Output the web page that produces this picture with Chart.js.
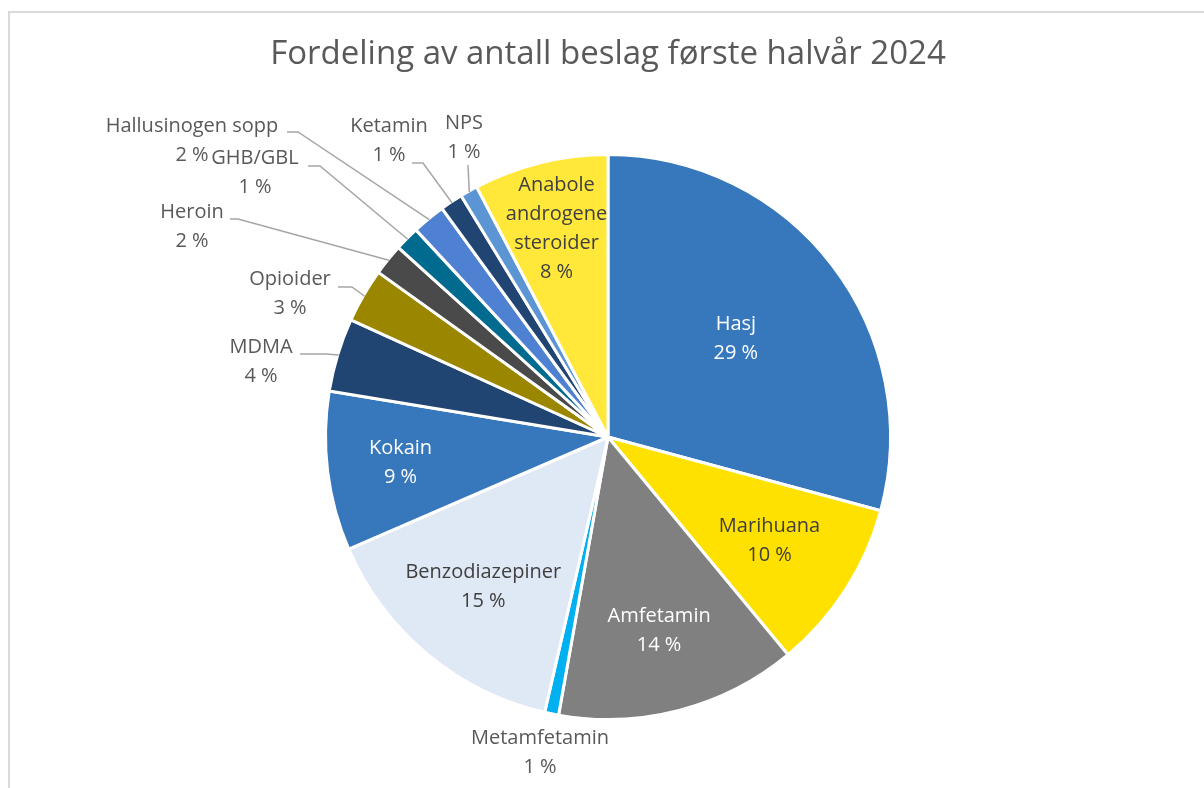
<!DOCTYPE html>
<html>
<head>
<meta charset="utf-8">
<script src="https://cdn.jsdelivr.net/npm/chart.js@4.4.1/dist/chart.umd.min.js"></script>
<style>
  html, body { margin: 0; padding: 0; background: #fff; }
  #wrap { width: 1204px; height: 788px; }
</style>
</head>
<body>
<div id="wrap"><canvas id="pieChart" width="1204" height="788"></canvas></div>
<script>
// Chart data
const chartTitle = 'Fordeling av antall beslag første halvår 2024';
const categories = [
    'Hasj', 'Marihuana', 'Amfetamin', 'Metamfetamin', 'Benzodiazepiner', 'Kokain',
    'MDMA', 'Opioider', 'Heroin', 'GHB/GBL', 'Hallusinogen sopp', 'Ketamin', 'NPS',
    ['Anabole', 'androgene', 'steroider']
];
const shares = [29.2, 9.8, 13.8, 0.8, 14.9, 9.1, 4.2, 3.1, 1.8, 1.4, 1.9, 1.3, 1.0, 7.7];
const colors = [
    '#3777bc', '#ffe100', '#808080', '#00b0f0', '#dfe8f5', '#3777bc',
    '#214573', '#9b8600', '#4a4a4a', '#006a8f', '#4f81d2', '#214573', '#5b95d3', '#ffe83a'
];

// Label layout (inside: radius fraction; outside: offsets from pie centre)
const labelLayout = [
    { inside: 0.57, color: '#ffffff' },
    { inside: 0.68, color: '#404040' },
    { inside: 0.71, color: '#ffffff' },
    { text: [-68, 316] },
    { inside: 0.69, color: '#404040' },
    { inside: 0.74, color: '#ffffff' },
    { text: [-347, -75], start: [-308, -83], elbow: 26 },
    { text: [-318, -143], start: [-270, -150], elbow: 14 },
    { text: [-416, -210], start: [-378, -218], elbow: 8 },
    { text: [-353, -264], start: [-300, -271], elbow: 12 },
    { text: [-416, -296], start: [-321, -305], elbow: 11 },
    { text: [-219, -296], start: [-196, -274], elbow: 11 },
    { text: [-144, -299], start: [-140, -272], elbow: 0 },
    { inside: 0.76, color: '#404040' }
];

const FONT = '"Open Sans", "DejaVu Sans", sans-serif';
const LINE_H = 29;

// Frame lines at top and left, plus the title
const framePlugin = {
    id: 'frame',
    beforeDraw(chart) {
        const ctx = chart.ctx;
        ctx.save();
        ctx.fillStyle = '#ffffff';
        ctx.fillRect(0, 0, chart.width, chart.height);
        ctx.strokeStyle = '#d9d9d9';
        ctx.lineWidth = 2;
        ctx.beginPath();
        ctx.moveTo(9, chart.height);
        ctx.lineTo(9, 12);
        ctx.lineTo(chart.width, 12);
        ctx.stroke();

        const area = chart.chartArea;
        ctx.fillStyle = '#595959';
        ctx.font = '33px ' + FONT;
        ctx.textAlign = 'center';
        ctx.textBaseline = 'middle';
        ctx.fillText(chartTitle, (area.left + area.right) / 2, 55);
        ctx.restore();
    }
};

// Data labels with leader lines
const labelPlugin = {
    id: 'sliceLabels',
    afterDatasetsDraw(chart) {
        const ctx = chart.ctx;
        const meta = chart.getDatasetMeta(0);
        const values = chart.data.datasets[0].data;
        const total = values.reduce((a, b) => a + b, 0);

        ctx.save();
        ctx.font = '20px ' + FONT;
        ctx.textAlign = 'center';
        ctx.textBaseline = 'middle';

        meta.data.forEach((arc, i) => {
            const p = arc.getProps(['x', 'y', 'startAngle', 'endAngle', 'outerRadius'], true);
            const mid = (p.startAngle + p.endAngle) / 2;
            const name = chart.data.labels[i];
            const lines = (Array.isArray(name) ? name.slice() : [name]);
            lines.push(Math.round(values[i] / total * 100) + ' %');
            const lay = labelLayout[i];

            let cx, cy;
            if (lay.inside) {
                cx = p.x + Math.cos(mid) * p.outerRadius * lay.inside;
                cy = p.y + Math.sin(mid) * p.outerRadius * lay.inside;
                ctx.fillStyle = lay.color;
            } else {
                cx = p.x + lay.text[0];
                cy = p.y + lay.text[1];
                ctx.fillStyle = '#595959';
                if (lay.start) {
                    const sx = p.x + lay.start[0];
                    const sy = p.y + lay.start[1];
                    ctx.strokeStyle = '#a6a6a6';
                    ctx.lineWidth = 1.5;
                    ctx.beginPath();
                    ctx.moveTo(sx, sy);
                    ctx.lineTo(sx + lay.elbow, sy);
                    ctx.lineTo(p.x + Math.cos(mid) * (p.outerRadius - 1),
                               p.y + Math.sin(mid) * (p.outerRadius - 1));
                    ctx.stroke();
                }
            }
            const top = cy - (lines.length - 1) * LINE_H / 2;
            lines.forEach((t, k) => ctx.fillText(t, cx, top + k * LINE_H));
        });
        ctx.restore();
    }
};

new Chart(document.getElementById('pieChart'), {
    type: 'pie',
    data: {
        labels: categories,
        datasets: [{
            data: shares,
            backgroundColor: colors,
            borderColor: '#ffffff',
            borderWidth: 3,
            hoverOffset: 0
        }]
    },
    options: {
        responsive: false,
        animation: false,
        layout: {
            padding: { left: 324, right: 312, top: 153, bottom: 67 }
        },
        plugins: {
            legend: { display: false },
            tooltip: { enabled: false },
            title: { display: false }
        }
    },
    plugins: [framePlugin, labelPlugin]
});
</script>
</body>
</html>
